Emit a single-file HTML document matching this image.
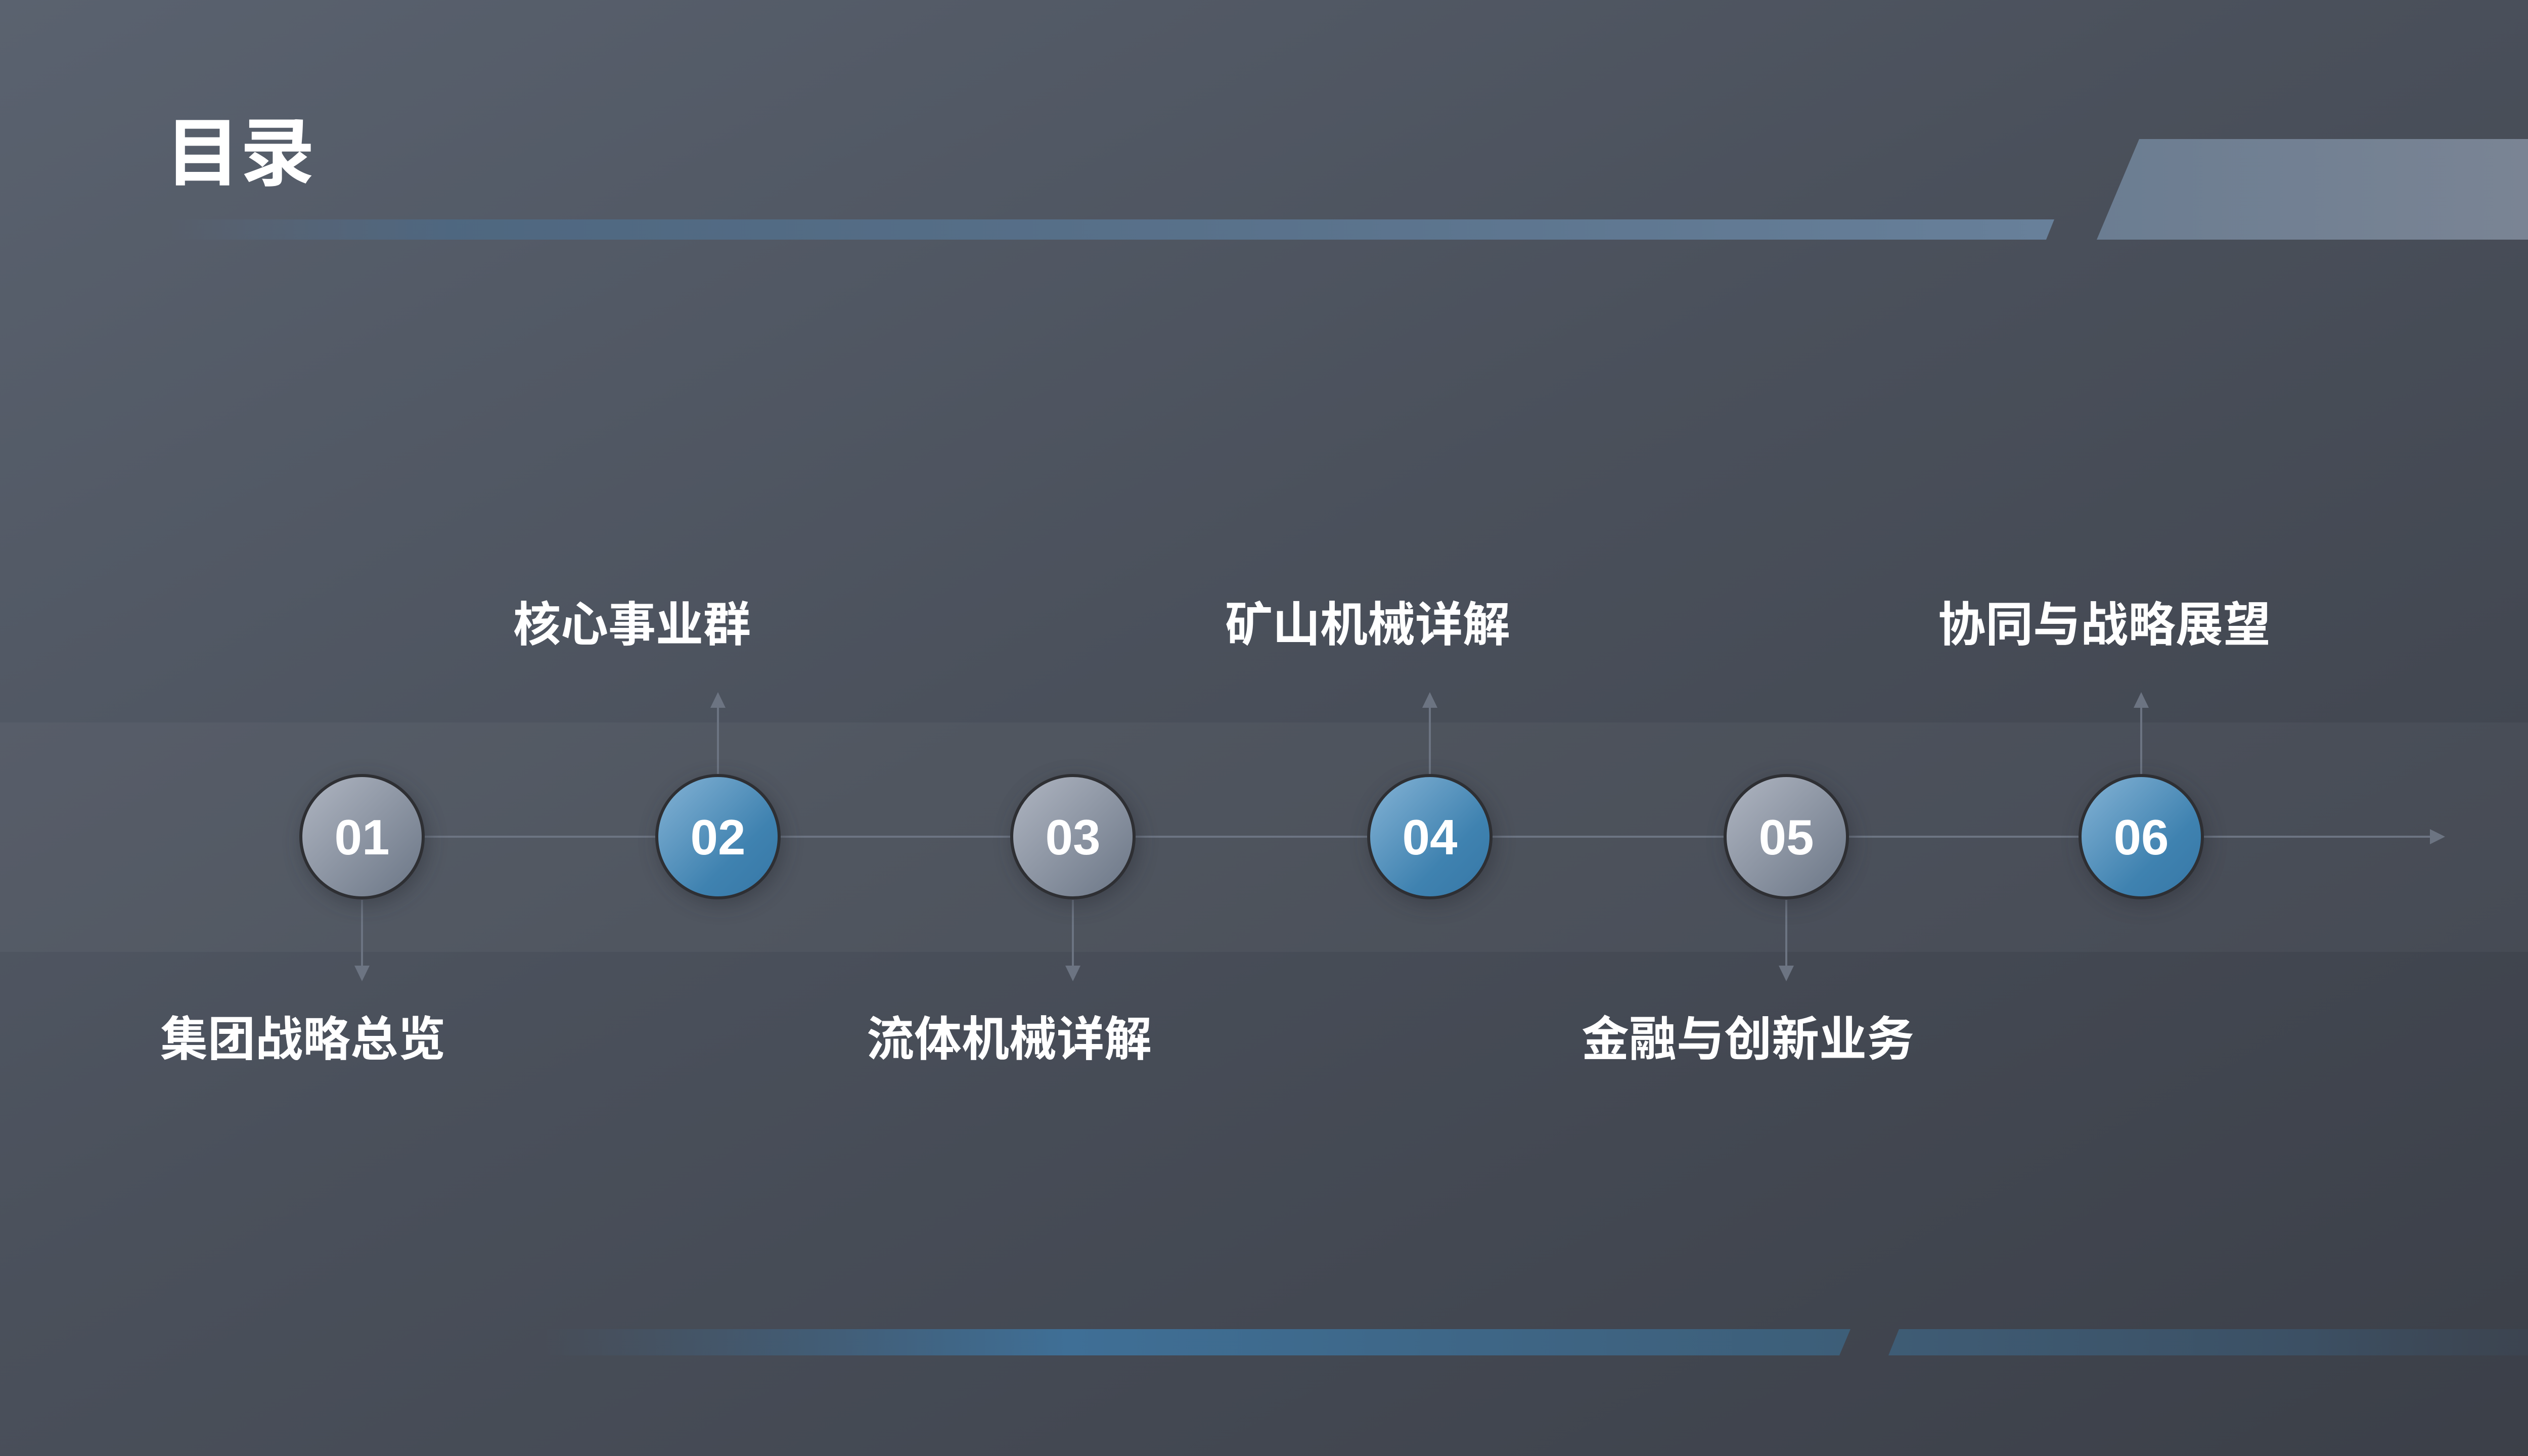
<!DOCTYPE html>
<html><head><meta charset="utf-8"><style>
html,body{margin:0;padding:0;width:5120px;height:2880px;overflow:hidden}
svg{display:block}
text{font-family:"Liberation Sans","Noto Sans CJK SC",sans-serif;fill:#fff;font-weight:bold}
</style></head><body>
<svg width="5120" height="2880" viewBox="0 0 5120 2880" xmlns="http://www.w3.org/2000/svg">
<defs>
<linearGradient id="bg" x1="0" y1="0" x2="1" y2="1">
<stop offset="0" stop-color="#5a626f"/><stop offset="0.45" stop-color="#4a505b"/><stop offset="1" stop-color="#3b3f48"/>
</linearGradient>
<linearGradient id="topbar" x1="0" y1="0" x2="1" y2="0">
<stop offset="0" stop-color="#5a7390" stop-opacity="0"/><stop offset="0.15" stop-color="#4d6a86" stop-opacity="0.8"/><stop offset="1" stop-color="#68809a"/>
</linearGradient>
<linearGradient id="bigbar" x1="0" y1="0" x2="1" y2="0">
<stop offset="0" stop-color="#6b7d92"/><stop offset="1" stop-color="#7c8594"/>
</linearGradient>
<linearGradient id="botbar1" x1="0" y1="0" x2="1" y2="0">
<stop offset="0" stop-color="#3f6a8e" stop-opacity="0"/><stop offset="0.4" stop-color="#3f6f96"/><stop offset="1" stop-color="#3d5e78"/>
</linearGradient>
<linearGradient id="botbar2" x1="0" y1="0" x2="1" y2="0">
<stop offset="0" stop-color="#3e5c75"/><stop offset="0.6" stop-color="#3c5064"/><stop offset="1" stop-color="#3c4654" stop-opacity="0.3"/>
</linearGradient>
<linearGradient id="gray" x1="0" y1="0" x2="1" y2="1">
<stop offset="0" stop-color="#b0b6c2"/><stop offset="1" stop-color="#6a7585"/>
</linearGradient>
<linearGradient id="blue" x1="0" y1="0" x2="1" y2="1">
<stop offset="0" stop-color="#86b4d6"/><stop offset="0.65" stop-color="#3f82b0"/><stop offset="1" stop-color="#3677a6"/>
</linearGradient>
<filter id="sh" x="-50%" y="-50%" width="200%" height="200%"><feGaussianBlur stdDeviation="18"/></filter>
</defs>
<rect width="5120" height="2880" fill="url(#bg)"/>
<rect x="0" y="1429" width="5120" height="454" fill="#ffffff" fill-opacity="0.035"/>
<text x="327" y="355" font-size="148">目录</text>
<polygon points="330,434 4063,434 4047,474 330,474" fill="url(#topbar)"/>
<polygon points="4231,275 5120,275 5120,474 4147,474" fill="url(#bigbar)"/>
<polygon points="1077,2629 3660,2629 3638,2681 1077,2681" fill="url(#botbar1)"/>
<polygon points="3756,2629 5120,2629 5120,2681 3735,2681" fill="url(#botbar2)"/>
<g stroke="#6c7482" stroke-width="4">
<line x1="600" y1="1655" x2="4810" y2="1655"/>
<line x1="716" y1="1780" x2="716" y2="1915"/>
<line x1="1420" y1="1531" x2="1420" y2="1395"/>
<line x1="2122" y1="1780" x2="2122" y2="1915"/>
<line x1="2828" y1="1531" x2="2828" y2="1395"/>
<line x1="3533" y1="1780" x2="3533" y2="1915"/>
<line x1="4235" y1="1531" x2="4235" y2="1395"/>
</g>
<g fill="#6c7482">
<polygon points="4806,1640 4836,1655 4806,1670"/>
<polygon points="701,1910 731,1910 716,1941"/>
<polygon points="2107,1910 2137,1910 2122,1941"/>
<polygon points="3518,1910 3548,1910 3533,1941"/>
<polygon points="1405,1400 1435,1400 1420,1369"/>
<polygon points="2813,1400 2843,1400 2828,1369"/>
<polygon points="4220,1400 4250,1400 4235,1369"/>
</g>
<g>
<circle cx="722" cy="1665" r="125" fill="#2f333a" opacity="0.5" filter="url(#sh)"/>
<circle cx="1426" cy="1665" r="125" fill="#2f333a" opacity="0.5" filter="url(#sh)"/>
<circle cx="2128" cy="1665" r="125" fill="#2f333a" opacity="0.5" filter="url(#sh)"/>
<circle cx="2834" cy="1665" r="125" fill="#2f333a" opacity="0.5" filter="url(#sh)"/>
<circle cx="3539" cy="1665" r="125" fill="#2f333a" opacity="0.5" filter="url(#sh)"/>
<circle cx="4241" cy="1665" r="125" fill="#2f333a" opacity="0.5" filter="url(#sh)"/>
</g>
<g stroke="#2e2f33" stroke-width="6">
<circle cx="716" cy="1655" r="121" fill="url(#gray)"/>
<circle cx="1420" cy="1655" r="121" fill="url(#blue)"/>
<circle cx="2122" cy="1655" r="121" fill="url(#gray)"/>
<circle cx="2828" cy="1655" r="121" fill="url(#blue)"/>
<circle cx="3533" cy="1655" r="121" fill="url(#gray)"/>
<circle cx="4235" cy="1655" r="121" fill="url(#blue)"/>
</g>
<g font-size="98" text-anchor="middle">
<text x="716" y="1690">01</text>
<text x="1420" y="1690">02</text>
<text x="2122" y="1690">03</text>
<text x="2828" y="1690">04</text>
<text x="3533" y="1690">05</text>
<text x="4235" y="1690">06</text>
</g>
<g font-size="94">
<text x="1015" y="1268">核心事业群</text>
<text x="2423" y="1268">矿山机械详解</text>
<text x="3833" y="1268">协同与战略展望</text>
<text x="317" y="2088">集团战略总览</text>
<text x="1714" y="2088">流体机械详解</text>
<text x="3128" y="2088">金融与创新业务</text>
</g>
</svg>
</body></html>
